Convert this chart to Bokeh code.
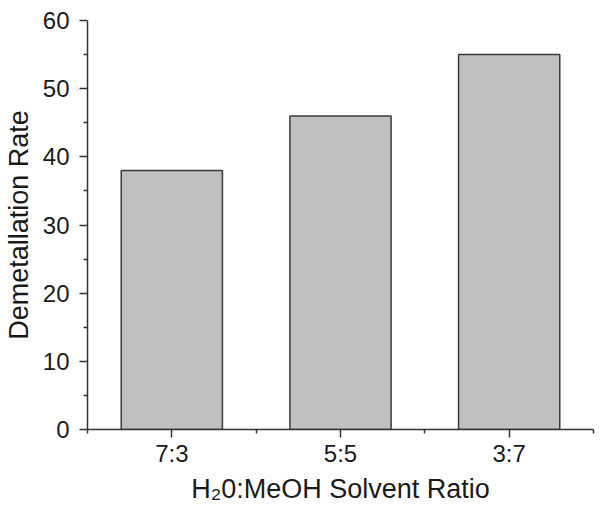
from bokeh.plotting import figure
from bokeh.models import FixedTicker, ColumnDataSource, Range1d
from bokeh.embed import file_html
from bokeh.resources import INLINE

categories = ["7:3", "5:5", "3:7"]
positions = [1, 2, 3]
rates = [38, 46, 55]
y_ticks = [0, 10, 20, 30, 40, 50, 60]
y_minor = [5, 15, 25, 35, 45, 55]
x_minor = [0.5, 1.5, 2.5, 3.5]

src = ColumnDataSource(dict(x=positions, top=rates))

p = figure(frame_width=506, frame_height=409, output_backend="svg", toolbar_location=None,
           x_range=Range1d(0.5, 3.5), y_range=Range1d(0, 60),
           min_border_left=79, min_border_right=3, min_border_top=20, min_border_bottom=76)

p.vbar(x="x", top="top", width=0.6, bottom=0, source=src,
       fill_color="#c0c0c0", line_color="#3a3a3a", line_width=1.5)

p.outline_line_color = None
p.xgrid.visible = False
p.ygrid.visible = False

font = "Liberation Sans"
for ax in (p.xaxis[0], p.yaxis[0]):
    ax.axis_line_color = "#333333"
    ax.axis_line_width = 1.5
    ax.major_tick_line_color = "#333333"
    ax.minor_tick_line_color = "#333333"
    ax.major_tick_line_width = 1.5
    ax.minor_tick_line_width = 1.5
    ax.major_tick_out = 8
    ax.major_tick_in = 0
    ax.minor_tick_out = 4
    ax.minor_tick_in = 0
    ax.major_label_text_font = font
    ax.major_label_text_font_size = "24px"
    ax.major_label_text_color = "#1a1a1a"
    ax.axis_label_text_font = font
    ax.axis_label_text_font_size = "27px"
    ax.axis_label_text_font_style = "normal"
    ax.axis_label_text_color = "#1a1a1a"

p.xaxis.ticker = FixedTicker(ticks=positions, minor_ticks=x_minor)
p.xaxis.major_label_overrides = {pos: lab for pos, lab in zip(positions, categories)}
p.xaxis.axis_label = "H\u20820:MeOH Solvent Ratio"
p.xaxis.major_label_standoff = 2
p.xaxis.axis_label_standoff = 4

p.yaxis.ticker = FixedTicker(ticks=y_ticks, minor_ticks=y_minor)
p.yaxis.axis_label = "Demetallation Rate"
p.yaxis.major_label_standoff = 10
p.yaxis.axis_label_standoff = 6

open("out.html", "w").write(file_html(p, INLINE))
